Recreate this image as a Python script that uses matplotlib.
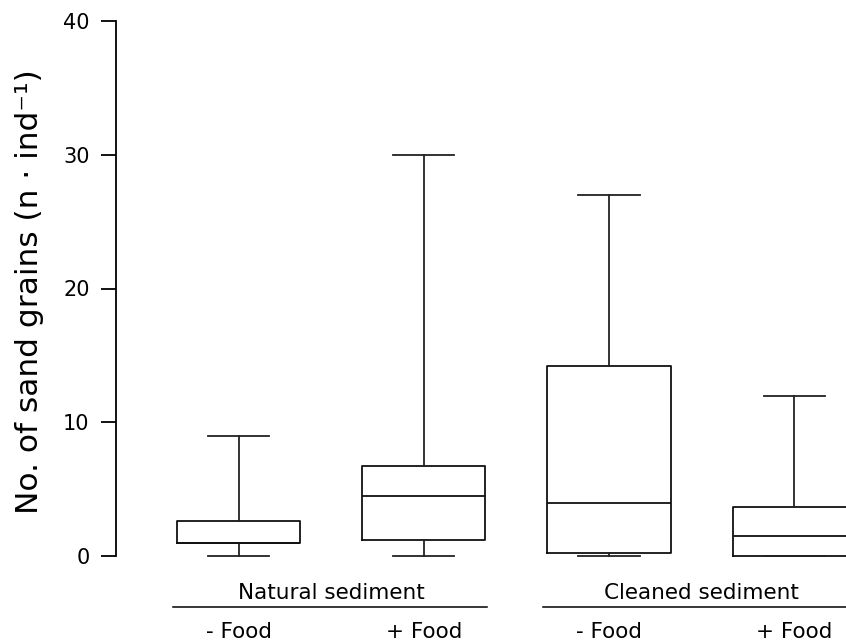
import matplotlib
matplotlib.use("Agg")
import matplotlib.pyplot as plt

# five-number summaries
labels = ["- Food", "+ Food", "- Food", "+ Food"]
groups = ["Natural sediment", "Cleaned sediment"]
whislo = [0, 0, 0, 0]
q1 = [1.0, 1.2, 0.25, 0.0]
med = [1.0, 4.5, 4.0, 1.5]
q3 = [2.65, 6.7, 14.2, 3.7]
whishi = [9, 30, 27, 12]

plt.rcParams["font.family"] = ["DejaVu Sans"]

stats = []
for i in range(len(labels)):
    stats.append({"whislo": whislo[i], "q1": q1[i], "med": med[i],
                  "q3": q3[i], "whishi": whishi[i], "fliers": []})

fig = plt.figure(figsize=(8.46, 6.44), dpi=100)
ax = fig.add_axes([116 / 846, 88 / 644, 1 - 116 / 846, 535 / 644])

positions = [1, 2, 3, 4]
lw = 1.3
bp = ax.bxp(stats, positions=positions, widths=0.665, showfliers=False,
            boxprops=dict(color="#111111", linewidth=lw),
            medianprops=dict(color="#111111", linewidth=lw),
            whiskerprops=dict(color="#222222", linewidth=lw),
            capprops=dict(color="#222222", linewidth=lw),
            capwidths=0.33, manage_ticks=False)
for key in bp:
    for art in bp[key]:
        art.set_clip_on(False)

ax.set_xlim(0.338, 4.28)
ax.set_ylim(0, 40)
ax.set_yticks([0, 10, 20, 30, 40])
ax.set_xticks([])
for s in ["top", "right", "bottom"]:
    ax.spines[s].set_visible(False)
ax.spines["left"].set_linewidth(1.3)
ax.tick_params(axis="y", length=11, width=1.3, labelsize=15, pad=8)

ax.set_ylabel("No. of sand grains (n · ind⁻¹)", fontsize=22.5)
ax.yaxis.set_label_coords(-72 / 730, 0.495)

tr = ax.get_xaxis_transform()
for pos, lab in zip(positions, labels):
    ax.text(pos, -0.142, lab, transform=tr, ha="center", va="center", fontsize=15.5)
for g, name in enumerate(groups):
    a, b = positions[2 * g], positions[2 * g + 1]
    ax.plot([a - 0.354, b + 0.343], [-0.096, -0.096], transform=tr,
            color="black", linewidth=1.1, clip_on=False)
    ax.text((a + b) / 2, -0.070, name, transform=tr,
            ha="center", va="center", fontsize=15.5)

fig.savefig("out.png", dpi=100)
